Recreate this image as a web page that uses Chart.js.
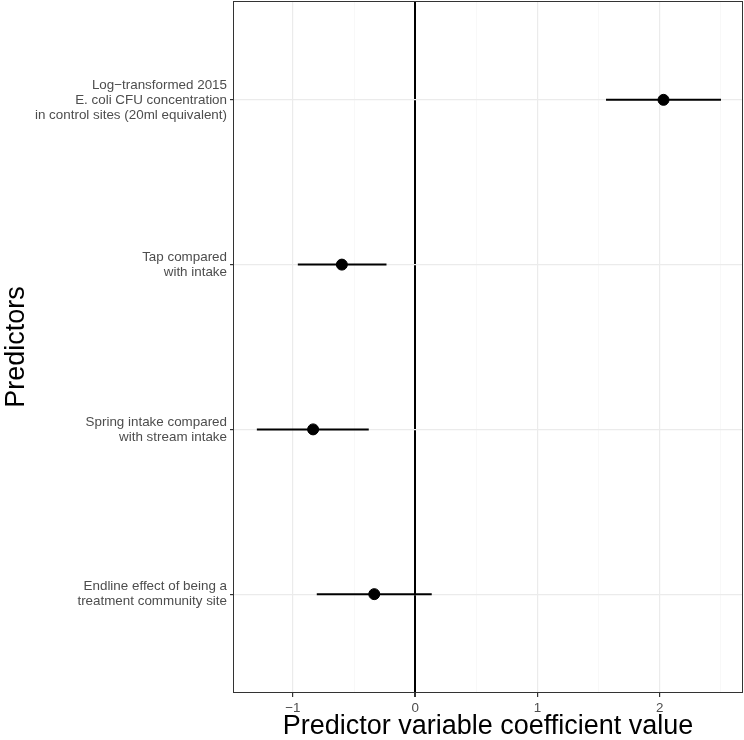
<!DOCTYPE html>
<html>
<head>
<meta charset="utf-8">
<script src="https://cdn.jsdelivr.net/npm/chart.js@4/dist/chart.umd.min.js"></script>
<style>
  html, body { margin: 0; padding: 0; background: #fff; }
  canvas { display: block; }
</style>
</head>
<body>
<canvas id="chart" width="744" height="740"></canvas>
<script>
// coefficient plot: point estimate + CI for each predictor, top to bottom
const PREDICTORS = [
  ['Log\u2212transformed 2015', 'E. coli CFU concentration', 'in control sites (20ml equivalent)'],
  ['Tap compared', 'with intake'],
  ['Spring intake compared', 'with stream intake'],
  ['Endline effect of being a', 'treatment community site'],
]
const ESTIMATE = [2.03, -0.60, -0.835, -0.335]
const CI_LOW   = [1.56, -0.96, -1.295, -0.805]
const CI_HIGH  = [2.50, -0.235, -0.38, 0.135]

const X_TICKS = [-1, -0.5, 0, 0.5, 1, 1.5, 2, 2.5]
const X_MIN = -1.49
const X_MAX = 2.68

const FONT = "'Liberation Sans', Arial, Helvetica, sans-serif"
const isMajor = v => Number.isInteger(v)

const ciSets = PREDICTORS.map((_, i) => ({
  type: 'scatter',
  data: [{ x: CI_LOW[i], y: i }, { x: CI_HIGH[i], y: i }],
  showLine: true,
  borderColor: '#000',
  borderWidth: 2,
  pointRadius: 0,
  order: 2,
}))

const pointSet = {
  type: 'scatter',
  data: ESTIMATE.map((x, i) => ({ x, y: i })),
  backgroundColor: '#000',
  borderColor: '#000',
  pointRadius: 5.5,
  order: 1,
}

// panel border like theme_bw
const panelBorder = {
  id: 'panelBorder',
  afterDraw(chart) {
    const { ctx, chartArea: a } = chart
    ctx.save()
    ctx.strokeStyle = '#333'
    ctx.lineWidth = 1
    ctx.strokeRect(a.left + 0.5, a.top + 0.5, a.right - a.left - 1, a.bottom - a.top - 1)
    ctx.restore()
  },
}

new Chart(document.getElementById('chart'), {
  type: 'scatter',
  data: { datasets: [...ciSets, pointSet] },
  plugins: [panelBorder],
  options: {
    responsive: false,
    animation: false,
    layout: { autoPadding: false, padding: { top: 1, right: 1, left: 0, bottom: 0 } },
    plugins: { legend: { display: false }, tooltip: { enabled: false } },
    scales: {
      x: {
        type: 'linear',
        min: X_MIN,
        max: X_MAX,
        afterBuildTicks: s => { s.ticks = X_TICKS.map(value => ({ value })) },
        afterFit: s => {
          s.height = 47
          s.paddingLeft = 0
          s.paddingRight = 0
        },
        border: { display: false },
        grid: {
          color: c => c.tick.value === 0 ? '#000' : (isMajor(c.tick.value) ? '#ebebeb' : '#f5f5f5'),
          lineWidth: c => c.tick.value === 0 ? 2 : (isMajor(c.tick.value) ? 1.2 : 0.7),
          tickColor: c => isMajor(c.tick.value) ? '#333' : 'rgba(0,0,0,0)',
          tickLength: 4,
        },
        ticks: {
          autoSkip: false,
          maxRotation: 0,
          padding: 3,
          color: '#4d4d4d',
          font: { family: FONT, size: 13.4 },
          callback: v => isMajor(v) ? String(v).replace('-', '\u2212') : '',
        },
        title: {
          display: true,
          text: 'Predictor variable coefficient value',
          color: '#000',
          font: { family: FONT, size: 27, lineHeight: 1 },
          padding: { top: 0, bottom: 0 },
        },
      },
      y: {
        type: 'linear',
        reverse: true,
        min: -0.6,
        max: 3.6,
        afterBuildTicks: s => { s.ticks = PREDICTORS.map((_, i) => ({ value: i })) },
        afterFit: s => {
          s.width = 233
          s.paddingTop = 0
          s.paddingBottom = 0
        },
        border: { display: false },
        grid: {
          color: '#ebebeb',
          lineWidth: 1.2,
          tickColor: '#333',
          tickLength: 3,
        },
        ticks: {
          autoSkip: false,
          padding: 3,
          color: '#4d4d4d',
          font: { family: FONT, size: 13.4, lineHeight: 1.12 },
          callback: v => PREDICTORS[v] || '',
        },
        title: {
          display: true,
          text: 'Predictors',
          color: '#000',
          font: { family: FONT, size: 27 },
          padding: { top: 0, bottom: 0 },
        },
      },
    },
  },
})
</script>
</body>
</html>
